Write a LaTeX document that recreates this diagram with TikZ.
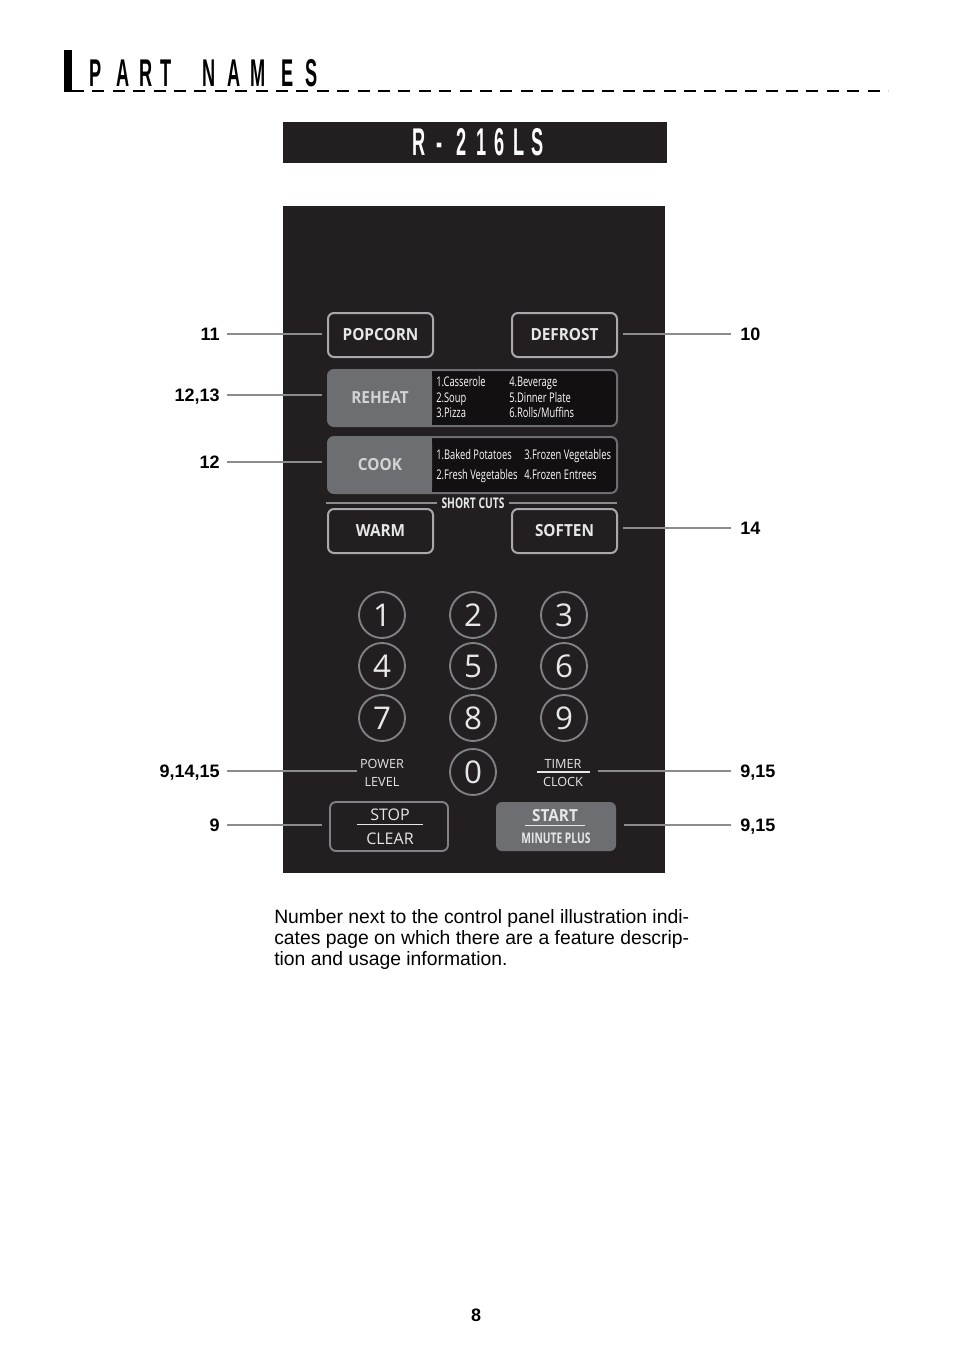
\documentclass[tikz,border=0pt]{standalone}
\usepackage{fontspec}
\setmainfont{Liberation Sans}
\newfontfamily\keyfont[FakeStretch=0.92]{Open Sans}
\newfontfamily\condfont[FakeStretch=0.7]{Open Sans}
\newfontfamily\plainkey{Open Sans}
\newfontfamily\headfont[FakeStretch=0.47]{Liberation Sans}
\usepackage{tikz}
\usetikzlibrary{calc,positioning}

\definecolor{panelbg}{HTML}{231F20}
\definecolor{listbg}{HTML}{121011}
\definecolor{keyedge}{HTML}{A7A9AC}
\definecolor{keygray}{HTML}{6D6E71}
\definecolor{ringgray}{HTML}{808285}
\definecolor{leadgray}{HTML}{8C8C8C}
\definecolor{keytext}{HTML}{E6E7E8}
\definecolor{keydim}{HTML}{D1D3D4}

\tikzset{
  key/.style={draw=keyedge, line width=1.5pt, rounded corners=4.5pt,
    minimum width=78.75pt, minimum height=33pt, inner sep=0pt,
    font=\keyfont\bfseries\fontsize{12.5}{14}\selectfont, text=keytext},
  wide/.style={draw=keygray, line width=1.5pt, rounded corners=4.5pt,
    minimum width=216.75pt, minimum height=42pt, inner sep=0pt},
  widelabel/.style={font=\keyfont\bfseries\fontsize{12.5}{14}\selectfont, text=keydim},
  item/.style={anchor=west, inner sep=0pt, text=white, text height=7pt, text depth=0pt,
    font=\condfont\fontsize{10}{10}\selectfont},
  digit/.style={circle, draw=ringgray, line width=1.4pt, minimum size=34.5pt,
    inner sep=0pt, text=keytext, font=\plainkey\fontsize{23.5}{23.5}\selectfont},
  small/.style={inner sep=0pt, text=keytext, font=\plainkey\fontsize{9.5}{13.5}\selectfont},
  num/.style={inner sep=0pt, text height=9.7pt, text depth=0pt,
    font=\bfseries\fontsize{13.5}{14}\selectfont},
  leader/.style={draw=leadgray, line width=1.5pt},
  divider/.style={draw=leadgray, line width=1.8pt},
}

\begin{document}
\begin{tikzpicture}[x=0.75pt, y=-0.75pt]
  \fill[white] (0,0) rectangle (954,1352);
  \useasboundingbox (0,0) rectangle (954,1352);

  % heading with dashed rule
  \fill (64,50) rectangle (72,92);
  \draw[line width=1.5pt, dash pattern=on 9pt off 6.3pt] (72,91) -- (888,91);
  \foreach \ch/\x [count=\i] in {P/95.5,A/123.5,R/146,T/166.5,N/209.5,A/234.5,M/258.5,E/287.5,S/311.5}
    \node[anchor=base, inner sep=0pt, font=\headfont\bfseries\fontsize{29}{29}\selectfont] (head\i) at (\x,87) {\ch};

  % model name
  \fill[panelbg] (283,122) rectangle (667,163);
  \foreach \ch/\x [count=\i] in {R/419.5,-/440,2/461.5,1/482,6/500,L/519,S/537.5}
    \node[anchor=base, inner sep=0pt, text=white, font=\headfont\bfseries\fontsize{29}{29}\selectfont] (model\i) at (\x,156) {\ch};

  % control panel
  \fill[panelbg] (283,206) rectangle (665,873);

  \node[key] (popcorn) at (380.5,335) {POPCORN};
  \node[key] (defrost) at (564.5,335) {DEFROST};

  % reheat bar
  \fill[listbg, rounded corners=4.5pt] (328,370) rectangle (617,426);
  \fill[keygray, rounded corners=4.5pt] (328,370) rectangle (432,426);
  \fill[keygray] (415,370) rectangle (432,426);
  \node[wide] (reheat) at (472.5,398) {};
  \node[widelabel] (reheatlbl) at (380,398) {REHEAT};
  \node[item] (rh1) at (436,382) {1.Casserole};
  \node[item] (rh2) at (436,398) {2.Soup};
  \node[item] (rh3) at (436,413) {3.Pizza};
  \node[item] (rh4) at (509,382) {4.Beverage};
  \node[item] (rh5) at (509,398) {5.Dinner Plate};
  \node[item] (rh6) at (509,413) {6.Rolls/Muffins};

  % cook bar
  \fill[listbg, rounded corners=4.5pt] (328,437) rectangle (617,493);
  \fill[keygray, rounded corners=4.5pt] (328,437) rectangle (432,493);
  \fill[keygray] (415,437) rectangle (432,493);
  \node[wide] (cook) at (472.5,465) {};
  \node[widelabel] (cooklbl) at (380,465) {COOK};
  \node[item] (ck1) at (436,455) {1.Baked Potatoes};
  \node[item] (ck2) at (436,475) {2.Fresh Vegetables};
  \node[item] (ck3) at (524,455) {3.Frozen Vegetables};
  \node[item] (ck4) at (524,475) {4.Frozen Entrees};

  % short cuts
  \node[inner sep=3pt, text=keytext, font=\condfont\bfseries\fontsize{11}{11}\selectfont] (shortcuts) at (473,503) {SHORT CUTS};
  \coordinate (scleft) at (326,503);
  \coordinate (scright) at (617,503);
  \draw[divider] (scleft) -- (shortcuts.west);
  \draw[divider] (shortcuts.east) -- (scright);

  \node[key] (warm) at (380.5,531) {WARM};
  \node[key] (soften) at (564.5,531) {SOFTEN};

  % number pad
  \foreach \d/\x/\y in {1/382/615,2/473/615,3/564/615,4/382/666,5/473/666,6/564/666,7/382/718,8/473/718,9/564/718,0/473/772}
    \node[digit] (d\d) at (\x,\y) {\d};

  \node[small, align=center] (power) at (382,773) {POWER\\LEVEL};
  \node[small] (timer) at (563,764) {TIMER};
  \node[small] (clock) at (563,782) {CLOCK};
  \coordinate (timerstart) at (537,772);
  \coordinate (timerend) at (590,772);
  \draw[keytext, line width=0.9pt] (timerstart) -- (timerend);

  % stop and start
  \node[draw=ringgray, line width=1.4pt, rounded corners=4.5pt, minimum width=88.5pt, minimum height=36.75pt] (stop) at (389,826.5) {};
  \node[small, font=\plainkey\fontsize{12}{12}\selectfont] (stoptxt) at (390,815) {STOP};
  \node[small, font=\plainkey\fontsize{12}{12}\selectfont] (cleartxt) at (390,839) {CLEAR};
  \draw[keytext, line width=0.9pt] ($(stoptxt.south)+(-33,3)$) -- ($(stoptxt.south)+(33,3)$);

  \node[fill=keygray, rounded corners=4.5pt, minimum width=90pt, minimum height=36.75pt] (start) at (556,826.5) {};
  \node[small, font=\keyfont\bfseries\fontsize{12.5}{12}\selectfont] (starttxt) at (555,816) {START};
  \node[small, font=\condfont\bfseries\fontsize{11}{11}\selectfont] (minplus) at (556,838) {MINUTE PLUS};
  \draw[keytext, line width=0.9pt] ($(starttxt.south)+(-30,3)$) -- ($(starttxt.south)+(30,3)$);

  % page references on the left
  \node[num, anchor=east] (l11) at (220,334) {11};
  \node[num, anchor=east] (l1213) at (220,395) {12,13};
  \node[num, anchor=east] (l12) at (220,462) {12};
  \node[num, anchor=east] (l91415) at (220,771) {9,14,15};
  \node[num, anchor=east] (l9) at (220,825) {9};
  \draw[leader, shorten <=5.25pt, shorten >=3.75pt] (l11) -- (l11 -| popcorn.west);
  \draw[leader, shorten <=5.25pt, shorten >=3.75pt] (l1213) -- (l1213 -| reheat.west);
  \draw[leader, shorten <=5.25pt, shorten >=3.75pt] (l12) -- (l12 -| cook.west);
  \draw[leader, shorten <=5.25pt, shorten >=2.25pt] (l91415) -- (l91415 -| power.west);
  \draw[leader, shorten <=5.25pt, shorten >=5.25pt] (l9) -- (l9 -| stop.west);

  % page references on the right
  \node[num, anchor=west] (r10) at (740,334) {10};
  \node[num, anchor=west] (r14) at (740,528) {14};
  \node[num, anchor=west] (r915a) at (740,771) {9,15};
  \node[num, anchor=west] (r915b) at (740,825) {9,15};
  \draw[leader, shorten <=6.75pt, shorten >=3.75pt] (r10) -- (r10 -| defrost.east);
  \draw[leader, shorten <=6.75pt, shorten >=3.75pt] (r14) -- (r14 -| soften.east);
  \draw[leader, shorten <=6.75pt, shorten >=6pt] (r915a) -- (r915a -| timerend);
  \draw[leader, shorten <=6.75pt, shorten >=6pt] (r915b) -- (r915b -| start.east);

  % note below the panel
  \node[anchor=north west, inner sep=0pt, align=left, font=\fontsize{14.5}{15.75}\selectfont] (note) at (274,909)
    {Number next to the control panel illustration indi-\\cates page on which there are a feature descrip-\\tion and usage information.};

  \node[font=\bfseries\fontsize{13.5}{14}\selectfont] (pageno) at (476,1315) {8};
\end{tikzpicture}
\end{document}
